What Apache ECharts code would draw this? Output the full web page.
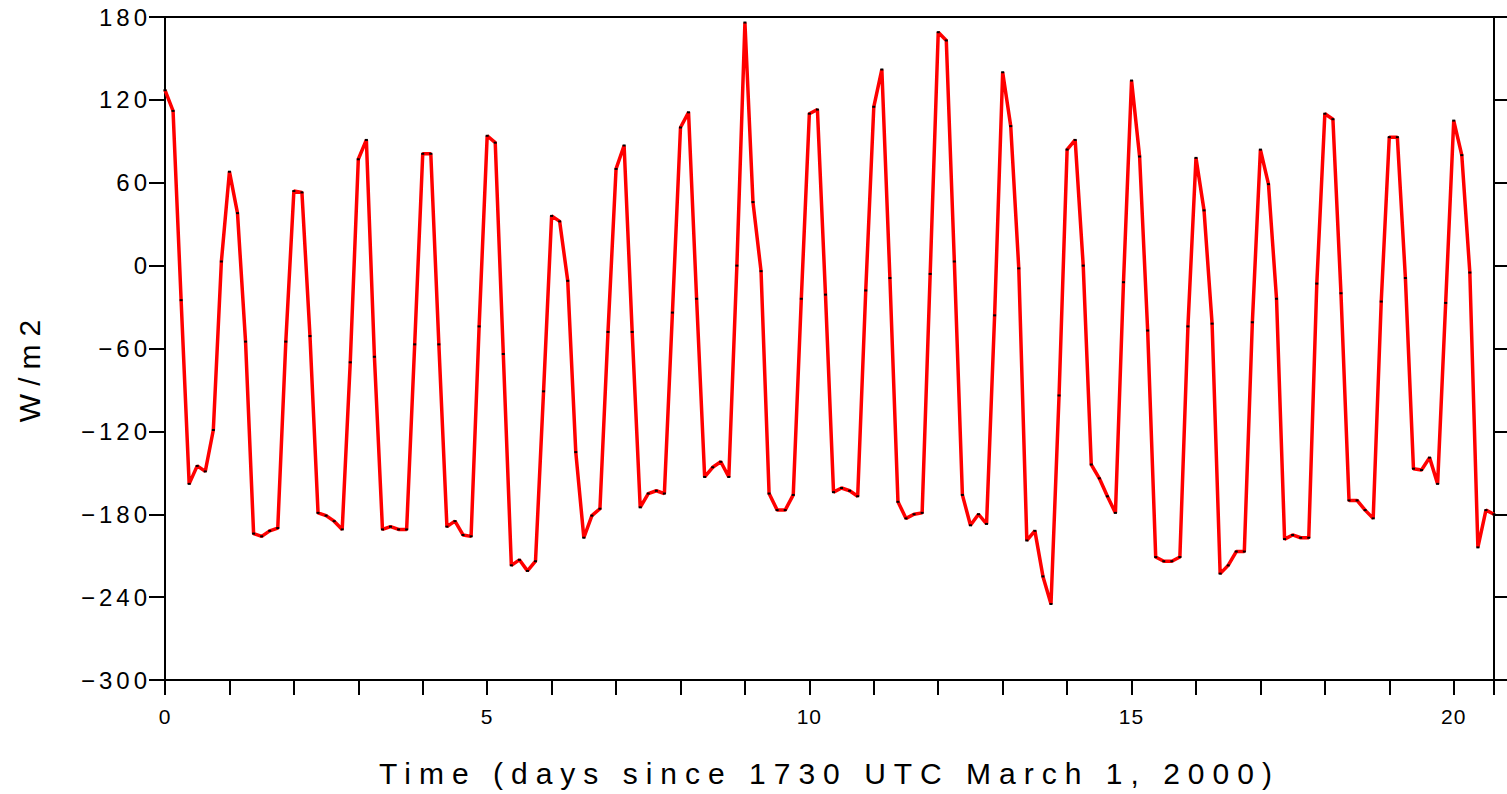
<!DOCTYPE html>
<html>
<head>
<meta charset="utf-8">
<title>Net radiation</title>
<script src="https://cdn.jsdelivr.net/npm/echarts@6/dist/echarts.min.js"></script>
<style>
  html, body { margin: 0; padding: 0; background: #fff; }
  #main { width: 1507px; height: 794px; }
</style>
</head>
<body>
<div id="main"></div>
<script>
// 3-hourly samples, first one at 1730 UTC March 1, 2000
const stepDays = 0.125;

// W/m2, one value per sample
const flux = [
  127, 112, -25, -158, -145, -149, -119, 3,
  68, 38, -55, -194, -196, -192, -190, -55,
  54, 53, -51, -179, -181, -185, -191, -70,
  77, 91, -66, -191, -189, -191, -191, -57,
  81, 81, -57, -189, -185, -195, -196, -44,
  94, 89, -64, -217, -213, -221, -214, -91,
  36, 32, -11, -135, -197, -181, -176, -48,
  70, 87, -48, -175, -165, -163, -165, -34,
  100, 111, -24, -153, -146, -142, -153, 0,
  176, 46, -4, -165, -177, -177, -166, -24,
  110, 113, -21, -164, -161, -163, -167, -18,
  115, 142, -9, -171, -183, -180, -179, -6,
  169, 163, 3, -166, -188, -180, -187, -36,
  140, 101, -2, -199, -192, -225, -245, -94,
  84, 91, 0, -144, -154, -167, -179, -12,
  134, 79, -47, -211, -214, -214, -211, -44,
  78, 40, -42, -223, -217, -207, -207, -41,
  84, 59, -24, -198, -195, -197, -197, -13,
  110, 106, -20, -170, -170, -177, -183, -26,
  93, 93, -9, -147, -148, -139, -158, -27,
  105, 80, -5, -204, -177, -180
];

const xTitle = 'Time (days since 1730 UTC March 1, 2000)';
const yTitle = 'W/m2';
const yMin = -300;
const yMax = 180;
const yStep = 60;

const points = flux.map((v, i) => [i * stepDays, v]);
const lastDay = (flux.length - 1) * stepDays;

const font = 'Liberation Sans';
const black = '#000';
const frame = { onZero: false, lineStyle: { color: black, width: 2 } };

const chart = echarts.init(document.getElementById('main'), null, { renderer: 'svg' });

const option = {
  animation: false,
  backgroundColor: '#fff',
  grid: { left: 165, right: 13, top: 17, bottom: 114 },
  xAxis: [
    {
      type: 'value',
      min: 0,
      max: lastDay,
      interval: 1,
      name: xTitle,
      nameLocation: 'middle',
      nameGap: 78,
      nameTextStyle: { fontFamily: font, fontSize: 30, color: black },
      axisLine: frame,
      axisTick: { length: 15, lineStyle: { color: black, width: 2 } },
      axisLabel: {
        margin: 26,
        fontFamily: font,
        fontSize: 21,
        color: black,
        formatter: v => (v % 5 === 0 ? String(v) : '')
      },
      splitLine: { show: false }
    },
    {
      type: 'value',
      position: 'top',
      min: 0,
      max: lastDay,
      axisLine: frame,
      axisTick: { show: false },
      axisLabel: { show: false },
      splitLine: { show: false }
    }
  ],
  yAxis: [
    {
      type: 'value',
      min: yMin,
      max: yMax,
      interval: yStep,
      axisLine: frame,
      axisTick: { length: 16, lineStyle: { color: black, width: 2 } },
      axisLabel: {
        margin: 14,
        fontFamily: font,
        fontSize: 24,
        color: black,
        formatter: v => String(v).replace('-', '\u2212')
      },
      splitLine: { show: false }
    },
    {
      type: 'value',
      position: 'right',
      min: yMin,
      max: yMax,
      interval: yStep,
      axisLine: frame,
      axisTick: { length: 15, lineStyle: { color: black, width: 2 } },
      axisLabel: { show: false },
      splitLine: { show: false }
    }
  ],
  graphic: [
    {
      type: 'text',
      x: 29,
      y: 367,
      rotation: Math.PI / 2,
      style: {
        text: yTitle,
        font: '30px "' + font + '"',
        fill: black,
        align: 'center',
        verticalAlign: 'middle'
      }
    }
  ],
  series: [
    {
      type: 'line',
      data: points,
      xAxisIndex: 0,
      yAxisIndex: 0,
      symbol: 'rect',
      symbolSize: [3, 2],
      showSymbol: true,
      itemStyle: { color: black },
      lineStyle: { color: '#ff0000', width: 3.5 },
      z: 3
    }
  ]
};

chart.setOption(option);

// the reference font is widely spaced; stretch the svg text to match
const spacingBySize = { 30: '8px', 24: '4px', 21: '1px' };
function spreadText() {
  document.querySelectorAll('#main text').forEach(t => {
    const size = Math.round(parseFloat(getComputedStyle(t).fontSize));
    if (spacingBySize[size]) t.style.letterSpacing = spacingBySize[size];
  });
}
spreadText();
chart.on('finished', spreadText);
</script>
</body>
</html>
